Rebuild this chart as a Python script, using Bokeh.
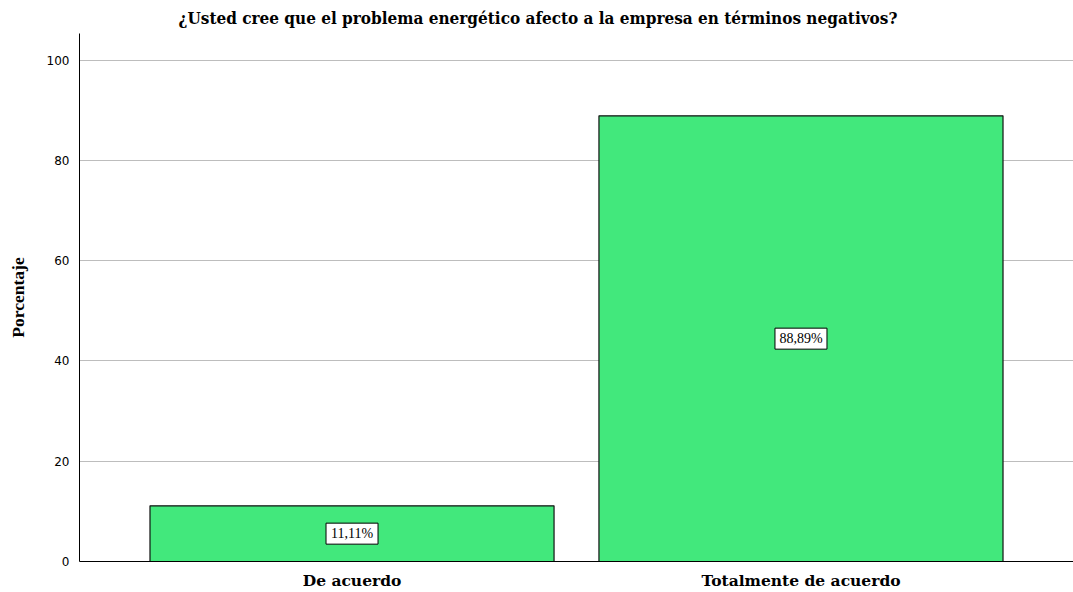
from bokeh.plotting import figure
from bokeh.models import ColumnDataSource, Range1d, SingleIntervalTicker
from bokeh.core.properties import value
from bokeh.embed import file_html
from bokeh.resources import INLINE

title_text = "¿Usted cree que el problema energético afecto a la empresa en términos negativos?"
categories = ["De acuerdo", "Totalmente de acuerdo"]
percentages = [11.11, 88.89]
y_ticks = [0, 20, 40, 60, 80, 100]

labels = [f"{v:.2f}".replace(".", ",") + "%" for v in percentages]
mids = [v / 2 for v in percentages]
src = ColumnDataSource(dict(cat=categories, pct=percentages, mid=mids, lab=labels))

p = figure(x_range=categories, y_range=Range1d(0, 105.3), width=1073, height=592,
           output_backend="svg", toolbar_location=None, title=title_text,
           min_border_left=79, min_border_right=0, min_border_top=0, min_border_bottom=4)
p.x_range.range_padding = 0.107
p.outline_line_color = None
p.background_fill_color = "white"

p.title.align = "left"
p.title.text_font = "'DejaVu Serif Condensed', 'Liberation Serif', serif"
p.title.text_font_style = "bold"
p.title.text_font_size = "17px"
p.title.text_color = "black"
p.title.offset = 99
p.title.standoff = 11

p.vbar(x="cat", top="pct", width=0.9, source=src, fill_color="#42e87c",
       line_color="#111111", line_width=1.2)

p.rect(x="cat", y="mid", width=52, height=21, width_units="screen", height_units="screen",
       source=src, fill_color="white", line_color="black", line_width=1)
p.text(x="cat", y="mid", text="lab", source=src, text_align="center", text_baseline="middle",
       text_font=value("Liberation Serif"), text_font_size="14px", text_color="black")

p.yaxis.ticker = SingleIntervalTicker(interval=20)
p.yaxis.axis_label = "Porcentaje"
p.yaxis.axis_label_text_font = "Liberation Serif"
p.yaxis.axis_label_text_font_style = "bold"
p.yaxis.axis_label_text_font_size = "17.5px"
p.yaxis.axis_label_text_color = "black"
p.yaxis.axis_label_standoff = 16
p.yaxis.major_label_text_font = "DejaVu Sans"
p.yaxis.major_label_text_font_size = "12px"
p.yaxis.major_label_text_color = "black"
p.yaxis.major_label_standoff = 10
p.yaxis.major_tick_out = 0
p.yaxis.major_tick_in = 0
p.yaxis.minor_tick_out = 0
p.yaxis.minor_tick_in = 0
p.yaxis.axis_line_color = "black"

p.xaxis.major_label_text_font = "DejaVu Serif"
p.xaxis.major_label_text_font_style = "bold"
p.xaxis.major_label_text_font_size = "15.5px"
p.xaxis.major_label_text_color = "black"
p.xaxis.major_label_standoff = 9
p.xaxis.major_tick_out = 0
p.xaxis.major_tick_in = 0
p.xaxis.axis_line_color = "black"

p.xgrid.grid_line_color = None
p.ygrid.grid_line_color = "#bdbdbd"
p.ygrid.ticker = SingleIntervalTicker(interval=20)

open("out.html", "w").write(file_html(p, INLINE))
